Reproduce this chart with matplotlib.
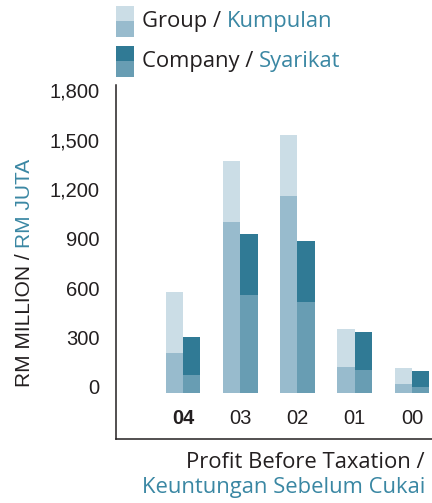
import matplotlib
matplotlib.use("Agg")
import matplotlib.pyplot as plt
import matplotlib.patches as mpatches
import matplotlib.transforms as mtransforms
import numpy as np

# data (RM million)
years = ["04", "03", "02", "01", "00"]
group_total = [612, 1406, 1564, 388, 152]
group_lower = [244, 1036, 1194, 158, 55]
company_total = [339, 964, 921, 370, 133]
company_lower = [109, 594, 552, 139, 36]
yticks = [0, 300, 600, 900, 1200, 1500, 1800]

# colours
g_light = "#cbdde6"
g_mid = "#98bbcd"
c_dark = "#307a95"
c_mid = "#689db3"
teal = "#3a87a3"
ink = "#231f20"

fig = plt.figure(figsize=(4.32, 5.03), dpi=100)
ax = fig.add_axes([116 / 432, 64 / 503, 316 / 432, 354 / 503])

x = np.arange(len(years))
w = 0.305
g_top = np.array(group_total) - np.array(group_lower)
c_top = np.array(company_total) - np.array(company_lower)

ax.bar(x - w / 2, group_lower, w, color=g_mid, linewidth=0)
ax.bar(x - w / 2, g_top, w, bottom=group_lower, color=g_light, linewidth=0)
ax.bar(x + w / 2, company_lower, w, color=c_mid, linewidth=0)
ax.bar(x + w / 2, c_top, w, bottom=company_lower, color=c_dark, linewidth=0)

ax.set_xlim(-1.17, 4.35)
ax.set_ylim(-279, 1867)

for s in ["top", "right"]:
    ax.spines[s].set_visible(False)
for s in ["left", "bottom"]:
    ax.spines[s].set_color(ink)
    ax.spines[s].set_linewidth(1.1)

ax.set_yticks(yticks)
ax.set_yticklabels([f"{v:,}" for v in yticks], fontfamily="Liberation Sans",
                   fontsize=14.5, color=ink)
ax.tick_params(axis="y", length=0, pad=12)
# labels sit a little above their grid value in the original
off = mtransforms.ScaledTranslation(0, 0.06, fig.dpi_scale_trans)
for lab in ax.get_yticklabels():
    lab.set_transform(lab.get_transform() + off)

ax.set_xticks([])
xt = mtransforms.blended_transform_factory(ax.transData, ax.transAxes)
for i, yr in enumerate(years):
    ax.text(x[i], 0.0565, yr, transform=xt, ha="center", va="center",
            fontfamily="Liberation Sans", fontsize=14.5, color=ink,
            fontweight="bold" if i == 0 else "normal")

# y axis label in two colours
r = fig.canvas.get_renderer()
t1 = fig.text(25 / 432, 1 - 387 / 503, "RM MILLION / ", rotation=90,
              ha="center", va="bottom", fontfamily="Liberation Sans",
              fontsize=15, color=ink)
bb = t1.get_window_extent(r).transformed(fig.transFigure.inverted())
fig.text(25 / 432, bb.y1, "RM JUTA", rotation=90, ha="center", va="bottom",
         fontfamily="Liberation Sans", fontsize=15, color=teal)

# legend swatches
sx, sw = 116 / 432, 18 / 432
def swatch(top_px, split_px, bot_px, ctop, cbot):
    fig.patches.append(mpatches.Rectangle((sx, 1 - split_px / 503), sw, (split_px - top_px) / 503,
                                          transform=fig.transFigure, color=ctop, lw=0))
    fig.patches.append(mpatches.Rectangle((sx, 1 - bot_px / 503), sw, (bot_px - split_px) / 503,
                                          transform=fig.transFigure, color=cbot, lw=0))

swatch(6, 21, 37, g_light, g_mid)
swatch(46, 61, 77, c_dark, c_mid)

lf = dict(fontfamily="Open Sans", fontsize=15.8, va="center")
a = fig.text(142 / 432, 1 - 21 / 503, "Group / ", color=ink, **lf)
bb = a.get_window_extent(r).transformed(fig.transFigure.inverted())
fig.text(bb.x1, 1 - 21 / 503, "Kumpulan", color=teal, **lf)
a = fig.text(142 / 432, 1 - 61 / 503, "Company / ", color=ink, **lf)
bb = a.get_window_extent(r).transformed(fig.transFigure.inverted())
fig.text(bb.x1, 1 - 61 / 503, "Syarikat", color=teal, **lf)

# chart title at bottom right
fig.text(425 / 432, 1 - 463 / 503, "Profit Before Taxation /", ha="right",
         color=ink, **lf)
fig.text(425 / 432, 1 - 488 / 503, "Keuntungan Sebelum Cukai", ha="right",
         color=teal, **lf)

fig.savefig("out.png", dpi=100)
